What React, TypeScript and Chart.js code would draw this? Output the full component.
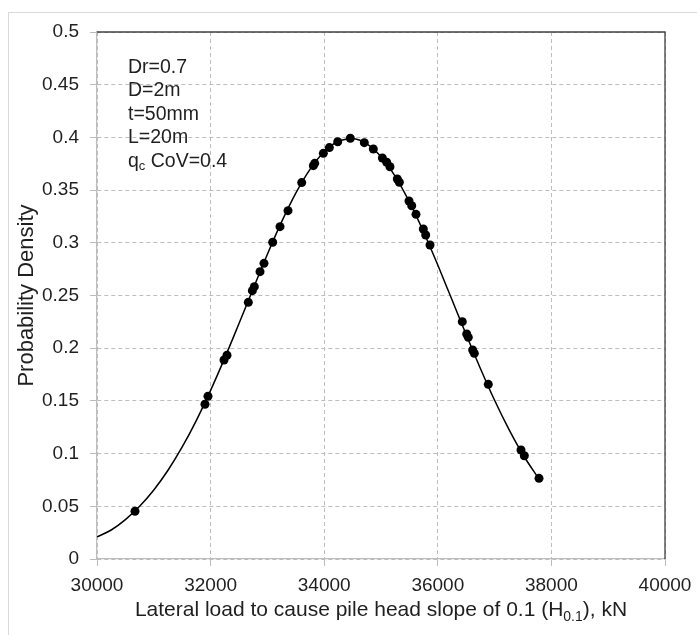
import React, { useEffect, useRef } from "react";
import { Chart, registerables } from "chart.js";

Chart.register(...registerables);

// Fitted probability-density curve
const curveX = [30000, 30250, 30500, 30750, 31000, 31250, 31500, 31750, 32000, 32250, 32500, 32750, 33000, 33250, 33500, 33750, 34000, 34250, 34500, 34750, 35000, 35250, 35500, 35750, 36000, 36250, 36500, 36750, 37000, 37250, 37500, 37782];
const curveY = [0.021, 0.0275, 0.0374, 0.05, 0.0655, 0.0842, 0.1063, 0.1316, 0.16, 0.1908, 0.2234, 0.2565, 0.2892, 0.3198, 0.3471, 0.3697, 0.3864, 0.3963, 0.3988, 0.3939, 0.3817, 0.3631, 0.3388, 0.3103, 0.2789, 0.2459, 0.2129, 0.1808, 0.1506, 0.1232, 0.0989, 0.0758];

// Simulated samples (markers)
const sampleX = [30669, 31901, 31954, 32236, 32289, 32664, 32735, 32770, 32870, 32940, 33093, 33222, 33363, 33604, 33809, 33833, 33985, 34091, 34238, 34460, 34706, 34865, 35024, 35100, 35158, 35287, 35323, 35493, 35541, 35616, 35745, 35787, 35863, 36431, 36509, 36537, 36614, 36643, 36889, 37465, 37523, 37782];
const sampleY = [0.0453, 0.1468, 0.1544, 0.1888, 0.1933, 0.2435, 0.2546, 0.2584, 0.2726, 0.2805, 0.3005, 0.3153, 0.3305, 0.3571, 0.3732, 0.3754, 0.3849, 0.3903, 0.3959, 0.3992, 0.395, 0.389, 0.3805, 0.3764, 0.3722, 0.3605, 0.3574, 0.3397, 0.3352, 0.327, 0.3131, 0.3074, 0.2979, 0.2252, 0.2135, 0.2103, 0.1983, 0.1951, 0.1657, 0.1034, 0.098, 0.0765];

const xTickValues = [30000, 32000, 34000, 36000, 38000, 40000];
const yTickLabels = ["0", "0.05", "0.1", "0.15", "0.2", "0.25", "0.3", "0.35", "0.4", "0.45", "0.5"];

const annotationLines = ["Dr=0.7", "D=2m", "t=50mm", "L=20m"];
const annotationQ = { main: "q", sub: "c", rest: " CoV=0.4" };
const yTitle = "Probability Density";
const xTitle = { pre: "Lateral load to cause pile head slope of 0.1 (H", sub: "0.1", post: "), kN" };

const FONT = '"Liberation Sans", Arial, sans-serif';
const TEXT = "#1f1f1f";

const decorPlugin = {
  id: "decor",
  afterDraw(chart: any) {
    const { ctx, chartArea } = chart;
    const { left, right, top, bottom } = chartArea;
    ctx.save();
    // dark plot-area border on top and right
    ctx.strokeStyle = "#404040";
    ctx.lineWidth = 1.3;
    ctx.beginPath();
    ctx.moveTo(left, top);
    ctx.lineTo(right, top);
    ctx.lineTo(right, bottom);
    ctx.stroke();

    ctx.fillStyle = TEXT;
    // annotation block
    ctx.font = `19.5px ${FONT}`;
    ctx.textAlign = "left";
    ctx.textBaseline = "alphabetic";
    const ax = 119;
    const ay0 = 59.5;
    const dy = 23.5;
    annotationLines.forEach((t, i) => ctx.fillText(t, ax, ay0 + i * dy));
    const qy = ay0 + annotationLines.length * dy;
    ctx.fillText(annotationQ.main, ax, qy);
    let qx = ax + ctx.measureText(annotationQ.main).width;
    ctx.font = `13px ${FONT}`;
    ctx.fillText(annotationQ.sub, qx, qy + 3);
    qx += ctx.measureText(annotationQ.sub).width;
    ctx.font = `19.5px ${FONT}`;
    ctx.fillText(annotationQ.rest, qx, qy);

    // x title with subscript
    const big = `21px ${FONT}`;
    const small = `14px ${FONT}`;
    ctx.font = big;
    const w1 = ctx.measureText(xTitle.pre).width;
    const w3 = ctx.measureText(xTitle.post).width;
    ctx.font = small;
    const w2 = ctx.measureText(xTitle.sub).width;
    const total = w1 + w2 + w3;
    let tx = (left + right) / 2 - total / 2;
    const ty = 602.5;
    ctx.font = big;
    ctx.fillText(xTitle.pre, tx, ty);
    tx += w1;
    ctx.font = small;
    ctx.fillText(xTitle.sub, tx, ty + 5);
    tx += w2;
    ctx.font = big;
    ctx.fillText(xTitle.post, tx, ty);

    // y title
    ctx.translate(24, (top + bottom) / 2);
    ctx.rotate(-Math.PI / 2);
    ctx.font = `22px ${FONT}`;
    ctx.textAlign = "center";
    ctx.textBaseline = "alphabetic";
    ctx.fillText(yTitle, 0, 0);
    ctx.restore();
  },
};

export default function App() {
  const ref = useRef<HTMLCanvasElement>(null);
  useEffect(() => {
    if (!ref.current) return;
    const zeroPad = (s: any) => {
      s.paddingLeft = 0;
      s.paddingRight = 0;
      s.paddingTop = 0;
      s.paddingBottom = 0;
    };
    const chart = new Chart(ref.current, {
      type: "scatter",
      data: {
        datasets: [
          {
            data: curveX.map((x, i) => ({ x, y: curveY[i] })),
            showLine: true,
            borderColor: "#000",
            borderWidth: 1.5,
            pointRadius: 0,
            cubicInterpolationMode: "monotone",
            order: 2,
          } as any,
          {
            data: sampleX.map((x, i) => ({ x, y: sampleY[i] })),
            showLine: false,
            backgroundColor: "#000",
            borderColor: "#000",
            pointRadius: 4.5,
            pointBorderWidth: 0,
            order: 1,
          },
        ],
      },
      options: {
        responsive: false,
        animation: false,
        layout: { padding: { left: 0, top: 19, right: 32, bottom: 0 } },
        plugins: { legend: { display: false }, tooltip: { enabled: false } },
        scales: {
          x: {
            type: "linear",
            min: 30000,
            max: 40000,
            afterBuildTicks: (s: any) => {
              s.ticks = xTickValues.map((v) => ({ value: v }));
            },
            afterFit: (s: any) => {
              s.height = 76;
              zeroPad(s);
            },
            ticks: {
              callback: (v: any) => String(v),
              font: { size: 19, family: FONT },
              color: TEXT,
              padding: 8,
              maxRotation: 0,
            },
            grid: {
              color: "#bdbdbd",
              tickLength: 7,
              tickColor: "#bdbdbd",
              tickBorderDash: [],
            },
            border: { display: true, color: "#bdbdbd", width: 1.3, dash: [4, 3] },
          },
          y: {
            type: "linear",
            min: 0,
            max: 0.5,
            afterBuildTicks: (s: any) => {
              s.ticks = yTickLabels.map((t) => ({ value: parseFloat(t) }));
            },
            afterFit: (s: any) => {
              s.width = 88;
              zeroPad(s);
            },
            ticks: {
              callback: (v: any, i: number) => yTickLabels[i],
              font: { size: 19, family: FONT },
              color: TEXT,
              padding: 11,
            },
            grid: {
              color: "#bdbdbd",
              tickLength: 7,
              tickColor: "#bdbdbd",
              tickBorderDash: [],
            },
            border: { display: true, color: "#bdbdbd", width: 1.3, dash: [4, 3] },
          },
        },
      },
      plugins: [decorPlugin],
    });
    return () => chart.destroy();
  }, []);

  return (
    <div
      style={{
        position: "fixed",
        left: 8,
        top: 12,
        width: 689,
        height: 623,
        boxSizing: "border-box",
        borderTop: "1px solid #d9d9d9",
        borderLeft: "1px solid #d9d9d9",
        background: "#fff",
      }}
    >
      <canvas ref={ref} width={688} height={622} style={{ display: "block" }} />
    </div>
  );
}
